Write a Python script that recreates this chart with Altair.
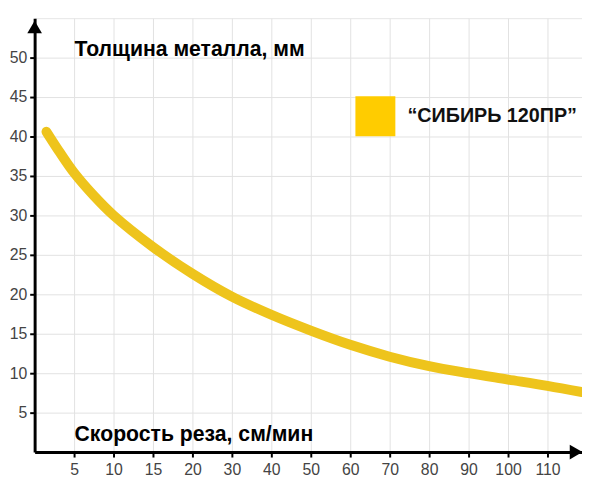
import altair as alt
import pandas as pd

# ---- data ----
speed_tick_labels = [5, 10, 15, 20, 30, 40, 50, 60, 70, 80, 90, 100, 110]
thickness_ticks = [5, 10, 15, 20, 25, 30, 35, 40, 45, 50]
curve_speed = [1.5, 3.25, 5, 7.5, 10, 15, 20, 30, 40, 50, 60, 70, 80, 90, 100, 110, 118.75]
curve_thickness = [40.6, 37.9, 35.4, 32.5, 30.0, 26.0, 22.6, 19.7, 17.4, 15.4, 13.6, 12.1, 10.9, 10.0, 9.2, 8.4, 7.6]
series_name = "\u201cСИБИРЬ 120ПР\u201d"
x_title = "Скорость реза, см/мин"
y_title = "Толщина металла, мм"
speed_max = 118.75
thickness_max = 55


def speed_to_pos(s):
    # axis is drawn with equal spacing: 0-20 in steps of 5, then steps of 10
    return s / 5 if s <= 20 else 4 + (s - 20) / 10


df = pd.DataFrame({
    "pos": [speed_to_pos(s) for s in curve_speed],
    "thickness": curve_thickness,
    "series": series_name,
})
x_ticks = [speed_to_pos(s) for s in speed_tick_labels]
x_max = speed_to_pos(speed_max)

FONT = "Liberation Sans, Arial, sans-serif"

xscale = alt.Scale(domain=[0, x_max], nice=False, zero=True)
yscale = alt.Scale(domain=[0, thickness_max], nice=False)

x_axis = alt.Axis(
    values=x_ticks,
    labelExpr="datum.value <= 4 ? format(datum.value * 5, 'd') : format(20 + (datum.value - 4) * 10, 'd')",
    grid=True, gridColor="#e2e2e2", gridWidth=1,
    domainColor="black", domainWidth=3,
    tickColor="black", tickWidth=2, tickSize=5,
    labelFont=FONT, labelFontSize=16, labelColor="#444", labelPadding=5,
    title=x_title, titleFont=FONT, titleFontSize=21.5, titleFontWeight="bold",
    titleColor="black", titleAnchor="start", titleAlign="left", titleBaseline="middle",
    titleX=40, titleY=-18,
)
y_axis = alt.Axis(
    values=thickness_ticks,
    grid=True, gridColor="#e2e2e2", gridWidth=1,
    domainColor="black", domainWidth=3,
    tickColor="black", tickWidth=2, tickSize=5,
    labelFont=FONT, labelFontSize=16, labelColor="#444", labelPadding=3,
    title=y_title, titleFont=FONT, titleFontSize=21.5, titleFontWeight="bold",
    titleColor="black", titleAngle=0, titleAlign="left", titleBaseline="middle",
    titleX=40, titleY=32,
)

line = alt.Chart(df).mark_line(strokeWidth=10, strokeCap="round", interpolate="catmull-rom").encode(
    x=alt.X("pos:Q", scale=xscale, axis=x_axis),
    y=alt.Y("thickness:Q", scale=yscale, axis=y_axis),
    color=alt.Color(
        "series:N",
        scale=alt.Scale(domain=[series_name], range=["#EEC41C"]),
        legend=alt.Legend(
            title=None, orient="none", legendX=325, legendY=79, padding=0,
            symbolType="square", symbolSize=1640, symbolFillColor="#FFCC00",
            symbolStrokeColor="#FFCC00", symbolStrokeWidth=0,
            labelFont=FONT, labelFontSize=20, labelFontWeight="bold",
            labelColor="#111", labelOffset=12, labelLimit=300,
        ),
    ),
)

arrow_up = alt.Chart(df).mark_point(shape="triangle-up", filled=True, color="black", size=220, opacity=1).encode(
    x=alt.datum(0), y=alt.datum(thickness_max), yOffset=alt.value(9)
).transform_aggregate(n="count()")

arrow_right = alt.Chart(df).mark_point(shape="triangle-right", filled=True, color="black", size=220, opacity=1).encode(
    x=alt.datum(x_max), y=alt.datum(0), xOffset=alt.value(-6)
).transform_aggregate(n="count()")

chart = alt.layer(line, arrow_up, arrow_right).properties(
    width=555, height=440,
    autosize=alt.AutoSizeParams(type="none"),
    padding={"left": 27, "top": 7, "right": 0, "bottom": 26},
    background="white",
).configure_view(stroke="#e6e6e6", strokeWidth=1)

chart.save("out.html", embed_options={"renderer": "svg", "actions": False})
